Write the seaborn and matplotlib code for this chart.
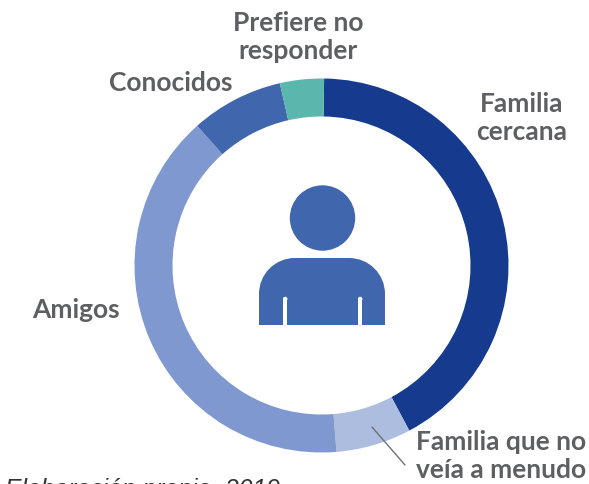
import matplotlib
matplotlib.use('Agg')
import matplotlib.pyplot as plt
import seaborn as sns
from matplotlib.patches import Circle, Rectangle, PathPatch
from matplotlib.path import Path

categories = ['Familia cercana', 'Familia que no veía a menudo', 'Amigos', 'Conocidos', 'Prefiere no responder']
shares = [42, 6.5, 39.7, 8, 3.8]
ring_colors = ['#153a8e', '#adbde0', '#7f98d0', '#4066ae', '#5bb7ad']

W, H = 589, 484
GRAY = '#5e5f61'
ICON = '#4066ae'

sns.set_theme(style='white')
plt.rcParams['font.family'] = ['Lato', 'DejaVu Sans']

fig = plt.figure(figsize=(W / 100, H / 100), dpi=100)
ax = fig.add_axes([0, 0, 1, 1])

# ring, clockwise from just right of 12 o'clock
ax.pie(shares, colors=sns.color_palette(ring_colors), center=(321.5, H - 265.5), radius=187,
       startangle=89.2, counterclock=False, frame=True,
       wedgeprops={'width': 38, 'linewidth': 0})

ax.set_xlim(0, W)
ax.set_ylim(0, H)
ax.set_aspect('equal')
ax.axis('off')

# person icon
ax.add_patch(Circle((322.5, H - 218), 32.7, color=ICON, lw=0))
r, k = 36, 20  # shoulder radius and bezier handle
body = Path([(259, H - 325), (259, H - 258 - r), (259, H - 258 - r + k), (295 - k, H - 258), (295, H - 258),
             (349, H - 258), (349 + k, H - 258), (385, H - 258 - r + k), (385, H - 258 - r),
             (385, H - 325), (259, H - 325)],
            [Path.MOVETO, Path.LINETO, Path.CURVE4, Path.CURVE4, Path.CURVE4,
             Path.LINETO, Path.CURVE4, Path.CURVE4, Path.CURVE4,
             Path.LINETO, Path.CLOSEPOLY])
ax.add_patch(PathPatch(body, facecolor=ICON, lw=0))
for slit_x in (285.2, 360.2):
    ax.add_patch(Rectangle((slit_x - 2.25, H - 325), 4.5, 26, color='white', lw=0))
    ax.add_patch(Circle((slit_x, H - 299), 2.25, color='white', lw=0))

# labels
label_font = dict(color=GRAY, fontsize=19, fontweight='bold', va='center', linespacing=1.2)
ax.text(298.5, H - 37, 'Prefiere no\nresponder', ha='center', **label_font)
ax.text(171, H - 83, 'Conocidos', ha='center', **label_font)
ax.text(522, H - 118, 'Familia\ncercana', ha='center', **label_font)
ax.text(76, H - 310, 'Amigos', ha='center', **label_font)
ax.text(416, H - 456.5, 'Familia que no\nveía a menudo', ha='left', **label_font)

ax.plot([372, 405], [H - 427, H - 465], color='#707070', lw=1)

# caption cut off by the bottom edge in the source
ax.text(5, H - 497, 'Elaboración propia, 2019', color='#333333', fontsize=17.8,
        family=['Liberation Sans', 'DejaVu Sans'], style='italic', ha='left', va='baseline', clip_on=False)

fig.savefig('out.png', dpi=100)
